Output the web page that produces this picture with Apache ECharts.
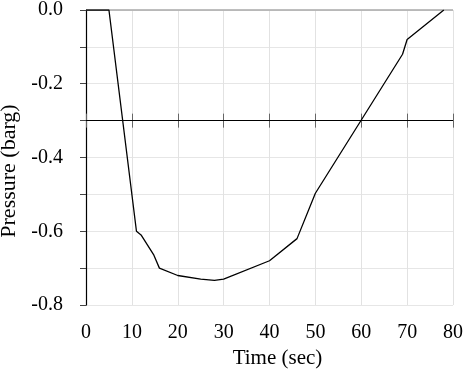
<!DOCTYPE html>
<html>
<head>
<meta charset="utf-8">
<script src="https://cdn.jsdelivr.net/npm/echarts@6/dist/echarts.min.js"></script>
<style>html,body{margin:0;padding:0;background:#fff;}#c{width:463px;height:373px;}</style>
</head>
<body>
<div id="c"></div>
<script>
const timeSec = [0, 5, 11, 12, 14.8, 16, 20, 25, 28, 30, 40, 46, 50, 69, 70, 78];
const pressureBarg = [0, 0, -0.6, -0.61, -0.665, -0.70, -0.72, -0.73, -0.733, -0.73, -0.68, -0.62, -0.497, -0.12, -0.08, 0];
const xTicks = [0, 10, 20, 30, 40, 50, 60, 70, 80];
const yTicks = [0, -0.2, -0.4, -0.6, -0.8];
const crossLevel = -0.3;

const FONT = 'Liberation Serif';
const chart = echarts.init(document.getElementById('c'), null, {renderer: 'canvas'});
const gridTop = 10, gridBottom = 68;
const plotH = 373 - gridTop - gridBottom;
const yMin = -0.8, yMax = 0;
const crossFromTop = (yMax - crossLevel) / (yMax - yMin) * plotH;

chart.setOption({
  animation: false,
  grid: {left: 86, right: 10, top: gridTop, bottom: gridBottom, containLabel: false, outerBoundsMode: 'none'},
  xAxis: [
    {
      type: 'value', min: xTicks[0], max: xTicks[xTicks.length - 1], interval: 10,
      axisLine: {show: false}, axisTick: {show: false},
      splitLine: {show: true, lineStyle: {color: '#e2e2e2', width: 1}},
      axisLabel: {fontFamily: FONT, fontSize: 20, color: '#000', margin: 18},
      name: 'Time (sec)', nameLocation: 'middle', nameGap: 41,
      nameTextStyle: {fontFamily: FONT, fontSize: 21, color: '#000', padding: [0, 0, 0, 16]}
    },
    {
      type: 'value', min: xTicks[0], max: xTicks[xTicks.length - 1], interval: 10,
      position: 'top', offset: -(crossFromTop - 7),
      axisLine: {show: false},
      axisTick: {show: true, length: 14, inside: true, lineStyle: {color: '#666', width: 1}},
      axisLabel: {show: false}, splitLine: {show: false}
    }
  ],
  yAxis: [
    {
      type: 'value', min: yMin, max: yMax, interval: 0.1,
      axisLine: {show: true, lineStyle: {color: '#a8a8a8', width: 1}},
      axisTick: {show: true, length: 6, inside: false, lineStyle: {color: '#444', width: 1}},
      splitLine: {show: true, lineStyle: {color: '#e6e6e6', width: 1}},
      axisLabel: {
        fontFamily: FONT, fontSize: 20, color: '#000', margin: 23,
        formatter: function (v) {
          const r = Math.round(v * 10) / 10;
          return yTicks.some(t => Math.abs(t - r) < 1e-6) ? r.toFixed(1) : '';
        }
      },
      name: 'Pressure (barg)', nameLocation: 'middle', nameGap: 62,
      nameTextStyle: {fontFamily: FONT, fontSize: 22, color: '#000', padding: [0, 27, 0, 0]}
    },
    {
      type: 'value', min: yMin, max: yMax, position: 'right',
      axisLine: {show: true, lineStyle: {color: '#000', width: 1.2}},
      axisTick: {show: false}, axisLabel: {show: false}, splitLine: {show: false}
    }
  ],
  series: [{
    type: 'line',
    data: timeSec.map((t, i) => [t, pressureBarg[i]]),
    showSymbol: false, symbol: 'none',
    lineStyle: {color: '#000', width: 1.3},
    markLine: {
      silent: true, symbol: 'none', label: {show: false},
      lineStyle: {color: '#000', type: 'solid', width: 1.2},
      data: [
        {yAxis: crossLevel},
        {yAxis: yMax, lineStyle: {color: '#a8a8a8', type: 'solid', width: 1.5}}
      ]
    },
    z: 5
  }]
});
</script>
</body>
</html>
